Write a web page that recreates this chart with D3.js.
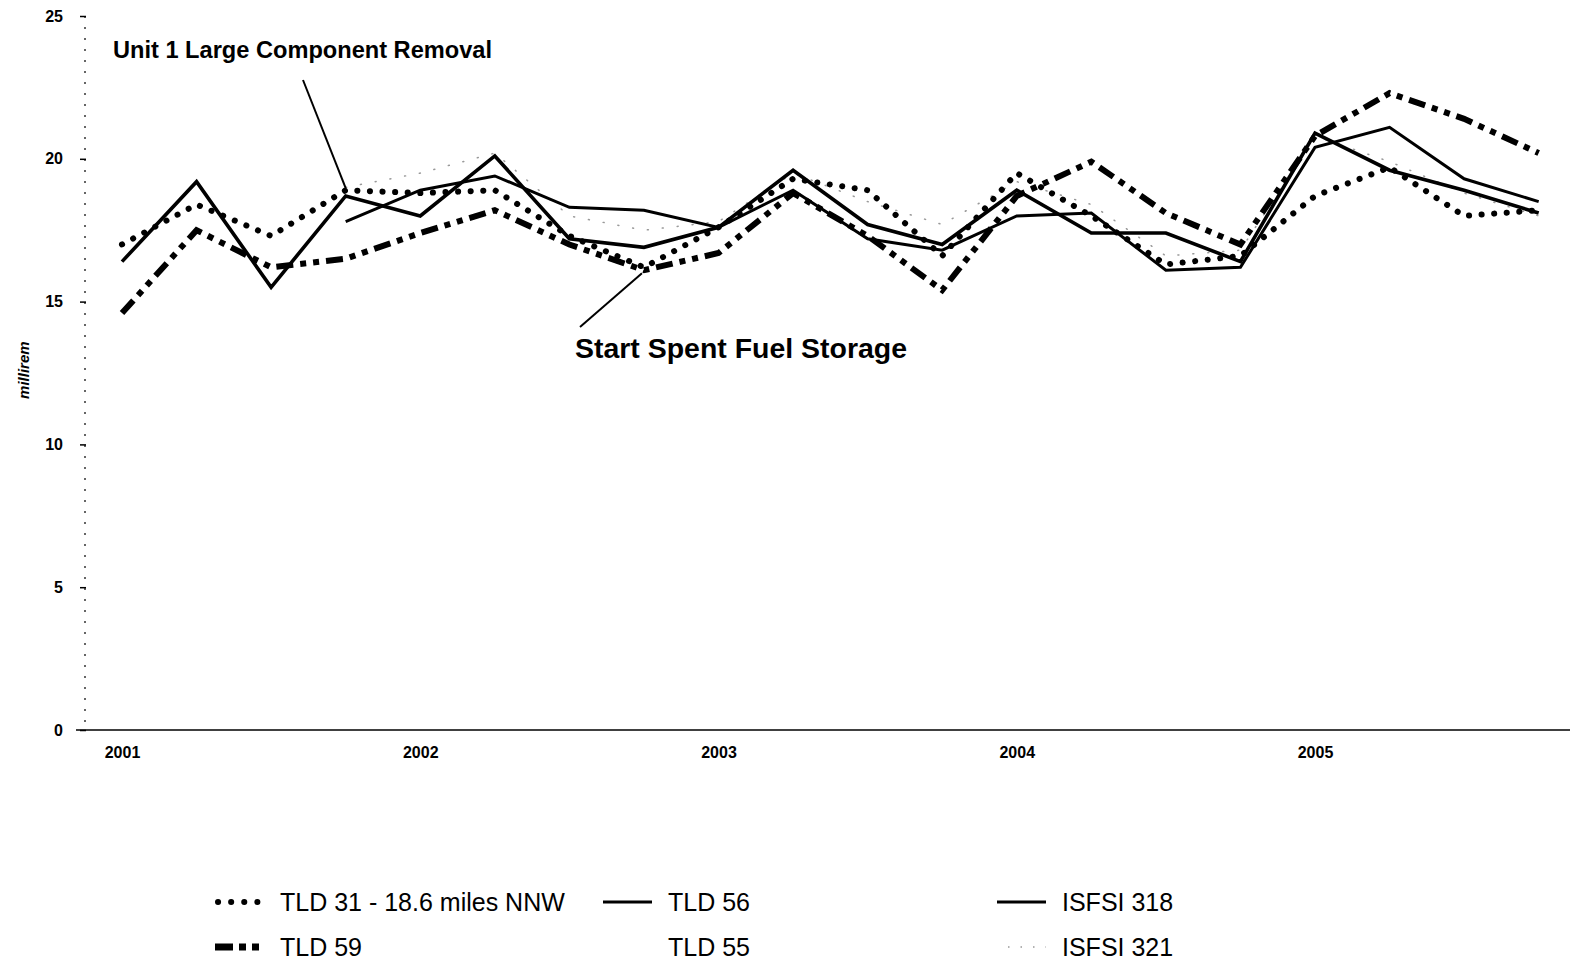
<!DOCTYPE html>
<html>
<head>
<meta charset="utf-8">
<script src="https://cdn.jsdelivr.net/npm/d3@7"></script>
<style>
  body { margin: 0; background: #fff; }
  svg { display: block; font-family: "Liberation Sans", Arial, Helvetica, sans-serif; }
  .tick-label { font-weight: bold; font-size: 16px; fill: #000; }
  .note { font-weight: bold; fill: #000; }
  .legend-text { font-size: 25px; fill: #000; }
</style>
</head>
<body>
<svg id="chart" width="1570" height="963"></svg>
<script>
  // quarterly readings, 2001 Q1 .. 2005 Q4 (millirem)
  const quarters = d3.range(20).map(i => 2001 + i / 4);
  const yearTicks = [2001, 2002, 2003, 2004, 2005];
  const yTicks = [0, 5, 10, 15, 20, 25];

  const tld31 = [17.0, 18.4, 17.3, 18.9, 18.8, 18.9, 17.3, 16.2, 17.6, 19.3, 18.9, 16.6, 19.5, 18.0, 16.3, 16.6, 18.7, 19.7, 18.0, 18.2];
  const tld59 = [14.6, 17.5, 16.2, 16.5, 17.4, 18.2, 17.0, 16.1, 16.7, 18.8, 17.3, 15.4, 18.7, 19.9, 18.1, 17.0, 20.8, 22.3, 21.4, 20.2];
  const tld56 = [16.4, 19.2, 15.5, 18.7, 18.0, 20.1, 17.2, 16.9, 17.6, 19.6, 17.7, 17.0, 18.9, 17.4, 17.4, 16.4, 20.9, 19.6, 18.9, 18.1];
  const isfsi318 = [null, null, null, 17.8, 18.9, 19.4, 18.3, 18.2, 17.6, 18.9, 17.2, 16.8, 18.0, 18.1, 16.1, 16.2, 20.4, 21.1, 19.3, 18.5];
  const isfsi321 = [null, null, null, 19.0, 19.5, 20.2, 18.0, 17.5, 17.8, 19.5, 18.5, 17.7, 19.2, 18.4, 16.6, 16.8, 20.8, 19.9, 18.8, 18.0];

  const svg = d3.select('#chart');

  const x = d3.scaleLinear().domain([2001, 2005]).range([122, 1315]);
  const y = d3.scaleLinear().domain([0, 25]).range([730, 16]);

  // y axis: faint dotted rule with short ticks
  svg.append('line')
    .attr('x1', 85).attr('x2', 85)
    .attr('y1', y(25)).attr('y2', y(0))
    .attr('stroke', '#000').attr('stroke-width', 1.2)
    .attr('stroke-dasharray', '2 9');

  const yAxis = svg.append('g')
    .attr('transform', 'translate(86,0)')
    .call(d3.axisLeft(y).tickValues(yTicks).tickSize(6).tickPadding(17));
  yAxis.select('.domain').remove();
  yAxis.selectAll('.tick line').attr('stroke', '#000').attr('stroke-width', 1.5);
  yAxis.selectAll('.tick text').attr('class', 'tick-label').attr('font-family', null).attr('font-size', null);

  svg.append('text')
    .attr('transform', `translate(29,${y(12.6)}) rotate(-90)`)
    .attr('text-anchor', 'middle')
    .attr('font-style', 'italic')
    .attr('font-weight', 'bold')
    .attr('font-size', 15)
    .text('millirem');

  // x axis
  svg.append('line')
    .attr('x1', 76).attr('x2', 1570)
    .attr('y1', y(0)).attr('y2', y(0))
    .attr('stroke', '#000').attr('stroke-width', 1.6);

  const xAxis = svg.append('g')
    .attr('transform', `translate(0,${y(0)})`)
    .call(d3.axisBottom(x).tickValues(yearTicks).tickFormat(d3.format('d')).tickSize(0).tickPadding(17));
  xAxis.select('.domain').remove();
  xAxis.selectAll('.tick text').attr('class', 'tick-label').attr('font-family', null).attr('font-size', null);

  const line = d3.line()
    .defined(d => d.v != null)
    .x(d => x(d.q))
    .y(d => y(d.v));

  const series = [
    { name: 'ISFSI 321', values: isfsi321, stroke: '#999', width: 1.5, dash: '1 14', cap: 'round' },
    { name: 'TLD 31 - 18.6 miles NNW', values: tld31, stroke: '#000', width: 6, dash: '0.1 12.5', cap: 'round' },
    { name: 'TLD 59', values: tld59, stroke: '#000', width: 6, dash: '17 7 6 7 6 7', cap: 'butt' },
    { name: 'TLD 56', values: tld56, stroke: '#000', width: 3.6, dash: null, cap: 'butt' },
    { name: 'ISFSI 318', values: isfsi318, stroke: '#000', width: 3, dash: null, cap: 'butt' }
  ];

  svg.append('g')
    .selectAll('path')
    .data(series)
    .join('path')
    .attr('fill', 'none')
    .attr('stroke', d => d.stroke)
    .attr('stroke-width', d => d.width)
    .attr('stroke-dasharray', d => d.dash)
    .attr('stroke-linecap', d => d.cap)
    .attr('stroke-linejoin', 'miter')
    .attr('d', d => line(d.values.map((v, i) => ({ q: quarters[i], v }))));

  // annotations
  svg.append('text').attr('class', 'note')
    .attr('x', 113).attr('y', 58).attr('font-size', 23)
    .attr('textLength', 379).attr('lengthAdjust', 'spacingAndGlyphs')
    .text('Unit 1 Large Component Removal');
  svg.append('line')
    .attr('x1', 303).attr('y1', 80).attr('x2', x(2001.75)).attr('y2', y(18.9) - 2)
    .attr('stroke', '#000').attr('stroke-width', 2);

  svg.append('text').attr('class', 'note')
    .attr('x', 575).attr('y', 358).attr('font-size', 27)
    .attr('textLength', 332).attr('lengthAdjust', 'spacingAndGlyphs')
    .text('Start Spent Fuel Storage');
  svg.append('line')
    .attr('x1', 580).attr('y1', 327).attr('x2', x(2002.75) - 2).attr('y2', y(16.2) + 6)
    .attr('stroke', '#000').attr('stroke-width', 2);

  // legend
  const legendItems = [
    { label: 'TLD 31 - 18.6 miles NNW', col: 0, row: 0, key: 'TLD 31 - 18.6 miles NNW' },
    { label: 'TLD 59', col: 0, row: 1, key: 'TLD 59' },
    { label: 'TLD 56', col: 1, row: 0, key: 'TLD 56' },
    { label: 'TLD 55', col: 1, row: 1, key: null },
    { label: 'ISFSI 318', col: 2, row: 0, key: 'ISFSI 318' },
    { label: 'ISFSI 321', col: 2, row: 1, key: 'ISFSI 321' }
  ];
  const colX = [215, 603, 997];
  const rowY = [902, 947];
  const sampleStyle = {
    'TLD 31 - 18.6 miles NNW': { x1: 3, width: 6, dash: '0.1 13', cap: 'round' },
    'TLD 59': { x1: 0, width: 7, dash: '18 6 7 6 7 20', cap: 'butt' },
    'TLD 56': { x1: 0, width: 3, dash: null, cap: 'butt' },
    'ISFSI 318': { x1: 0, width: 3, dash: null, cap: 'butt' },
    'ISFSI 321': { x1: 11, width: 1.5, dash: '1.5 11', cap: 'butt' }
  };

  const legend = svg.append('g');
  const item = legend.selectAll('g')
    .data(legendItems)
    .join('g')
    .attr('transform', d => `translate(${colX[d.col]},${rowY[d.row]})`);

  item.filter(d => d.key)
    .append('line')
    .each(function (d) {
      const s = sampleStyle[d.key];
      const color = series.find(t => t.name === d.key).stroke;
      d3.select(this)
        .attr('x1', s.x1).attr('x2', 49).attr('y1', 0).attr('y2', 0)
        .attr('stroke', color)
        .attr('stroke-width', s.width)
        .attr('stroke-dasharray', s.dash)
        .attr('stroke-linecap', s.cap);
    });

  item.append('text')
    .attr('class', 'legend-text')
    .attr('x', 65)
    .attr('y', 9)
    .text(d => d.label);
</script>
</body>
</html>
